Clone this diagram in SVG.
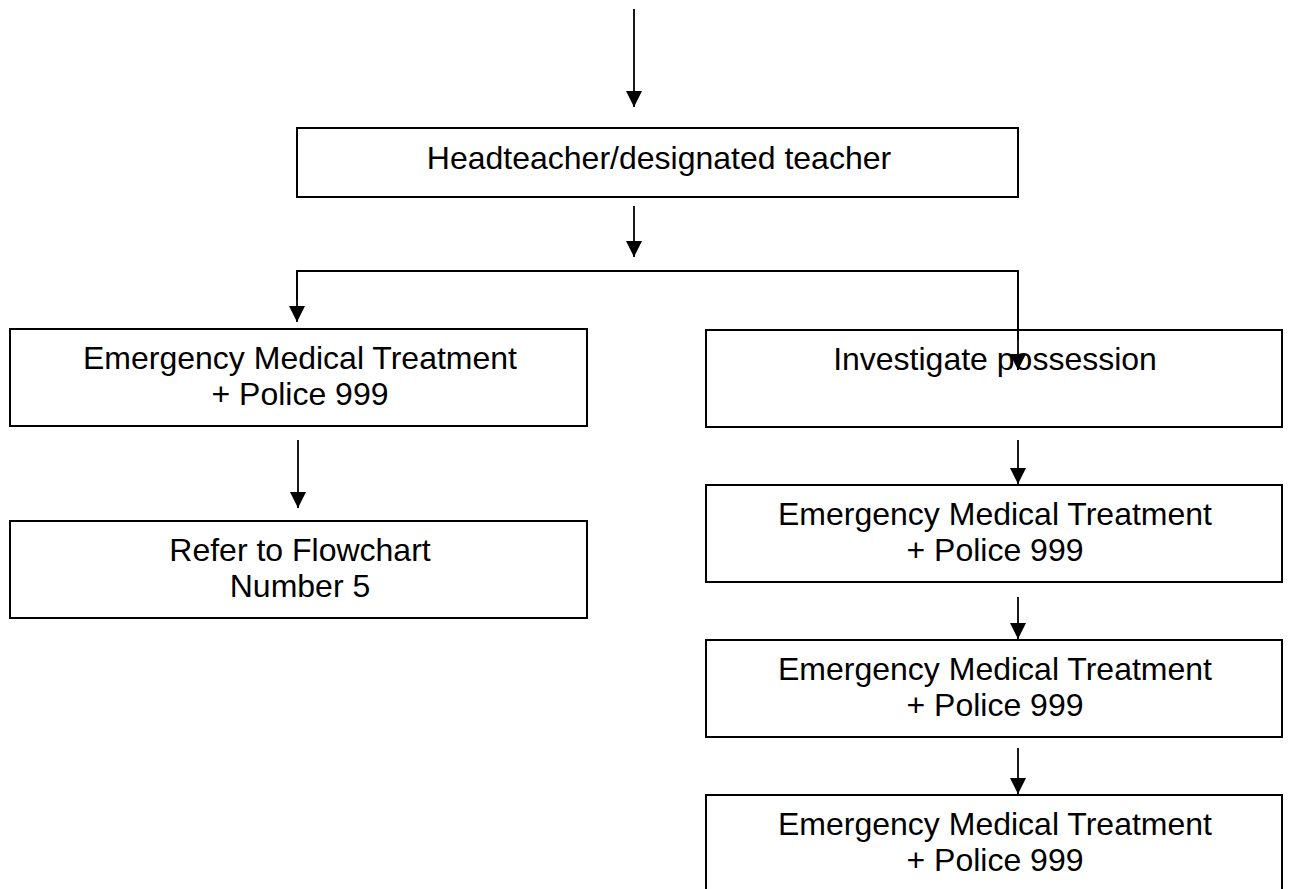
<svg xmlns="http://www.w3.org/2000/svg" width="1290" height="889" viewBox="0 0 1290 889">
  <style>
    .box { fill: #ffffff; stroke: #000000; stroke-width: 2; }
    .lbl { font-family: "Liberation Sans", Arial, sans-serif; font-size: 32px; fill: #000000; text-anchor: middle; }
    .conn { fill: none; stroke: #000000; stroke-width: 1.8; }
  </style>
  <defs>
    <marker id="arrow" markerUnits="userSpaceOnUse" markerWidth="17" markerHeight="16" refX="16" refY="8" orient="auto">
      <path d="M0,0 L16,8 L0,16 z" fill="#000000"/>
    </marker>
  </defs>
  <rect width="1290" height="889" fill="#ffffff"/>

  <g id="node-headteacher">
    <rect class="box" x="297" y="128" width="721" height="69"/>
    <text class="lbl" x="659" y="169">Headteacher/designated teacher</text>
  </g>

  <g id="node-emt-left">
    <rect class="box" x="10" y="329" width="577" height="97"/>
    <text class="lbl" x="300" y="369">Emergency Medical Treatment</text>
    <text class="lbl" x="300" y="405">+ Police 999</text>
  </g>

  <g id="node-refer">
    <rect class="box" x="10" y="521" width="577" height="97"/>
    <text class="lbl" x="300" y="561">Refer to Flowchart</text>
    <text class="lbl" x="300" y="597">Number 5</text>
  </g>

  <g id="node-investigate">
    <rect class="box" x="706" y="330" width="576" height="97"/>
    <text class="lbl" x="995" y="370">Investigate possession</text>
  </g>

  <g id="node-emt-right-1">
    <rect class="box" x="706" y="485" width="576" height="97"/>
    <text class="lbl" x="995" y="525">Emergency Medical Treatment</text>
    <text class="lbl" x="995" y="561">+ Police 999</text>
  </g>

  <g id="node-emt-right-2">
    <rect class="box" x="706" y="640" width="576" height="97"/>
    <text class="lbl" x="995" y="680">Emergency Medical Treatment</text>
    <text class="lbl" x="995" y="716">+ Police 999</text>
  </g>

  <g id="node-emt-right-3">
    <rect class="box" x="706" y="795" width="576" height="100"/>
    <text class="lbl" x="995" y="835">Emergency Medical Treatment</text>
    <text class="lbl" x="995" y="871">+ Police 999</text>
  </g>

  <g id="connectors">
    <line class="conn" x1="634" y1="9" x2="634" y2="107" marker-end="url(#arrow)"/>
    <line class="conn" x1="634" y1="206" x2="634" y2="257" marker-end="url(#arrow)"/>
    <polyline class="conn" points="297,300 297,271 1018,271 1018,340"/>
    <line class="conn" x1="297" y1="271" x2="297" y2="322" marker-end="url(#arrow)"/>
    <line class="conn" x1="1018" y1="271" x2="1018" y2="370" marker-end="url(#arrow)"/>
    <line class="conn" x1="298" y1="440" x2="298" y2="508" marker-end="url(#arrow)"/>
    <line class="conn" x1="1018" y1="440" x2="1018" y2="484" marker-end="url(#arrow)"/>
    <line class="conn" x1="1018" y1="597" x2="1018" y2="639" marker-end="url(#arrow)"/>
    <line class="conn" x1="1018" y1="748" x2="1018" y2="794" marker-end="url(#arrow)"/>
  </g>
</svg>
